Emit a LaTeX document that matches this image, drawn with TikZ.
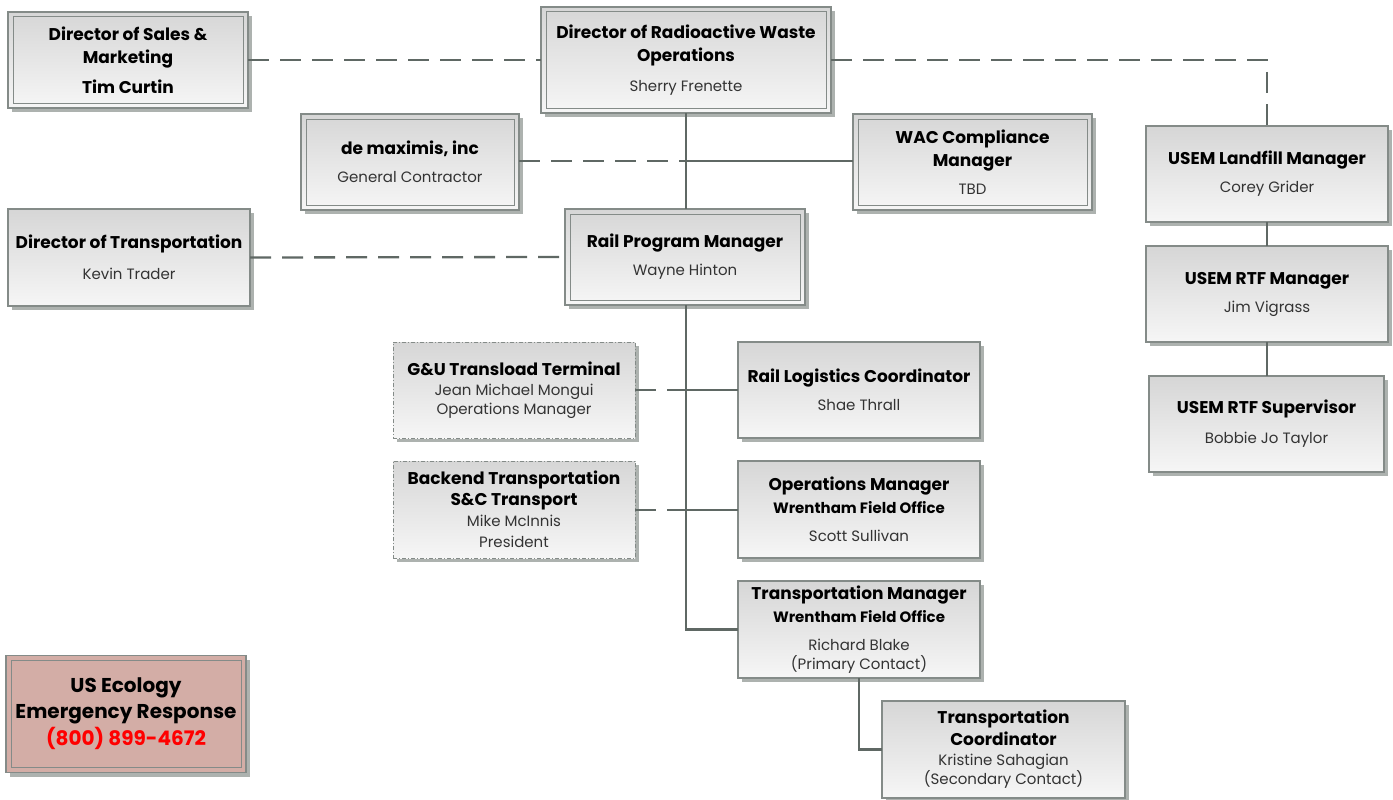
\documentclass[tikz,border=0pt]{standalone}
\usepackage{fontspec}
\setmainfont{Poppins}
\usetikzlibrary{shadows}
\definecolor{bordc}{HTML}{848B88}
\definecolor{linec}{HTML}{5F6864}
\definecolor{shadc}{HTML}{ADB2AF}
\definecolor{topc}{HTML}{D6D6D6}
\definecolor{botc}{HTML}{F6F6F6}
\definecolor{pinkc}{HTML}{D3ADA6}
\definecolor{redc}{HTML}{FF0000}
\newcommand\hd[1]{{\fontsize{17}{23}\selectfont\bfseries\color{black}#1}}
\newcommand\sh[1]{{\fontsize{15}{23}\selectfont\bfseries\color{black}#1}}
\newcommand\eh[1]{{\fontsize{20}{26}\selectfont\bfseries #1}}
\begin{document}
\begin{tikzpicture}[x=1pt,y=-1pt,
  box/.style={draw=bordc, line width=1.2pt, top color=topc, bottom color=botc,
    drop shadow={shadow xshift=4pt, shadow yshift=-4pt, fill=shadc, opacity=1},
    align=center, inner sep=0pt, outer sep=0pt,
    font=\fontsize{15}{23}\selectfont, text=black!80,
    minimum width=242pt, minimum height=96pt},
  dashbox/.style={box, dash pattern=on 4pt off 2pt on 1pt off 2pt, line width=0.9pt},
  innerline/.style={draw=bordc, line width=1pt},
  solidc/.style={draw=linec, line width=2.3pt},
  dashc/.style={draw=linec, line width=2.3pt, dash pattern=on 21pt off 11pt}]
\path[use as bounding box, fill=white] (0,0) rectangle (1393,800);

\coordinate (j1) at (686,161);
\coordinate (j2) at (686,390);
\coordinate (j3) at (686,510);

% boxes
\node[box, minimum width=240pt] (sales) at (128,60) {\hd{Director of Sales \&}\\\hd{Marketing}\\[7pt]\hd{Tim Curtin}};
\node[box, minimum width=290pt, minimum height=106pt] (dir) at (686,60) {\hd{Director of Radioactive Waste}\\\hd{Operations}\\[7pt]Sherry Frenette};
\node[box, minimum width=218pt] (demax) at (410,162) {\hd{de maximis, inc}\\[5pt]General Contractor};
\node[box, minimum width=239pt] (wac) at (972.5,162) {\hd{WAC Compliance}\\\hd{Manager}\\[5pt]TBD};
\node[box, minimum height=97pt] (dirtrans) at (129,257.5) {\hd{Director of Transportation}\\[8pt]Kevin Trader};
\node[box, minimum width=240pt] (railpm) at (685,257) {\hd{Rail Program Manager}\\[5pt]Wayne Hinton};
\node[dashbox] (gu) at (514,390) {\hd{G\&U Transload Terminal}\\[-3pt]Jean Michael Mongui\\[-4pt]Operations Manager};
\node[box] (rlc) at (859,390) {\hd{Rail Logistics Coordinator}\\[5pt]Shae Thrall};
\node[dashbox, minimum height=97pt] (backend) at (514,509.5) {\hd{Backend Transportation}\\[-2pt]\hd{S\&C Transport}\\[-2pt]Mike McInnis\\[-2pt]President};
\node[box, minimum height=97pt] (ops) at (859,509.5) {\hd{Operations Manager}\\\sh{Wrentham Field Office}\\[5pt]Scott Sullivan};
\node[box, minimum height=97pt] (tm) at (859,629.5) {\hd{Transportation Manager}\\\sh{Wrentham Field Office}\\[5pt]Richard Blake\\[-4pt](Primary Contact)};
\node[box, minimum width=243pt, minimum height=97pt] (tc) at (1003.5,749.5) {\hd{Transportation}\\[-1pt]\hd{Coordinator}\\[-3pt]Kristine Sahagian\\[-4pt](Secondary Contact)};
\node[box] (usemlf) at (1267,174) {\hd{USEM Landfill Manager}\\[5pt]Corey Grider};
\node[box] (rtfm) at (1267,294) {\hd{USEM RTF Manager}\\[5pt]Jim Vigrass};
\node[box, minimum width=235pt] (rtfs) at (1266.5,424) {\hd{USEM RTF Supervisor}\\[7pt]Bobbie Jo Taylor};
\node[box, fill=pinkc, top color=pinkc, bottom color=pinkc, minimum width=240pt, minimum height=117pt, text=black] (useco) at (126,714) {\eh{US Ecology}\\[3pt]\eh{Emergency Response}\\[2pt]\eh{\color{redc}(800) 899-4672}};

% inner borders of double-framed boxes
\foreach \n in {sales,dir,demax,wac,railpm,useco}
  \draw[innerline] ([shift={(5,5)}]\n.north west) rectangle ([shift={(-5,-5)}]\n.south east);

% connectors
\draw[dashc] (sales.east) -- (dir.west);
\draw[dashc] (dir.east) -| (usemlf.north);
\draw[solidc] (dir.south) -- (dir.south |- railpm.north);
\draw[dashc] (demax.east |- j1) -- (j1);
\draw[solidc] (j1) -- (wac.west |- j1);
\draw[dashc] (dirtrans.east) -- (railpm.west);
\draw[solidc] (dir.south |- railpm.south) |- (tm.west);
\draw[dashc] (gu.east) -- (j2);
\draw[solidc] (j2) -- (rlc.west);
\draw[dashc] (backend.east |- j3) -- (j3);
\draw[solidc] (j3) -- (ops.west |- j3);
\draw[solidc] (tm.south) |- (tc.west);
\draw[solidc] (usemlf.south) -- (rtfm.north);
\draw[solidc] (rtfm.south -| usemlf.south) -- (rtfs.north -| usemlf.south);
\end{tikzpicture}
\end{document}
